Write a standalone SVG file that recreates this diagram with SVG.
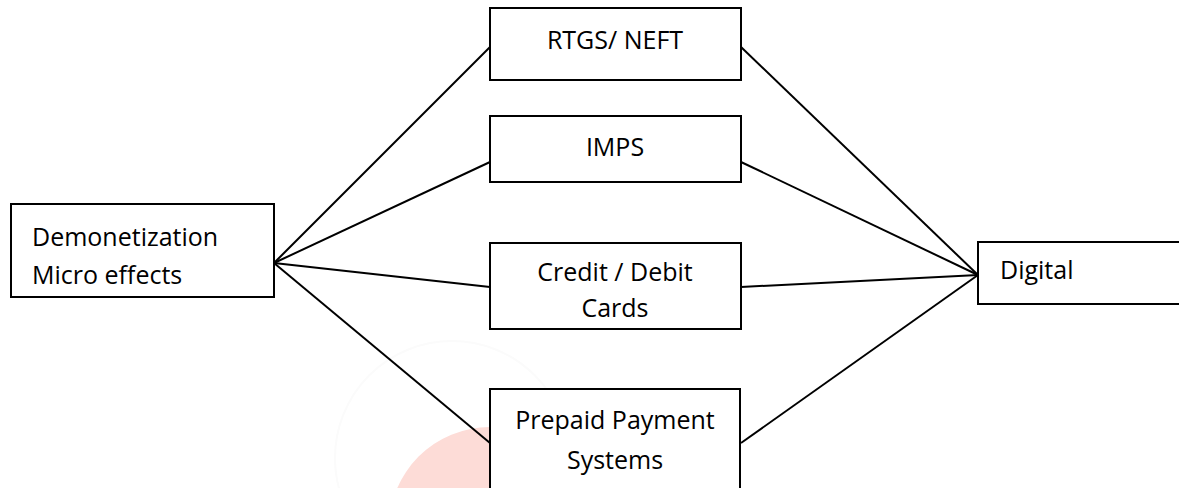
<svg xmlns="http://www.w3.org/2000/svg" width="1179" height="488" viewBox="0 0 1179 488">
  <style>
    .box { fill: #ffffff; stroke: #000000; stroke-width: 2; }
    .link { stroke: #000000; stroke-width: 2; fill: none; }
    .label { font-family: "Open Sans", "Noto Sans", "Liberation Sans", sans-serif; font-size: 25px; fill: #000000; }
    .mid { text-anchor: middle; }
  </style>
  <rect width="1179" height="488" fill="#ffffff"/>

  <!-- faint background mark -->
  <g id="backdrop">
    <circle cx="452" cy="458" r="117" fill="none" stroke="#fbfbfb" stroke-width="2"/>
    <circle cx="490" cy="528" r="101" fill="#fddcd7"/>
  </g>

  <g id="connectors">
    <line class="link" x1="274" y1="263" x2="490" y2="47"/>
    <line class="link" x1="274" y1="263" x2="490" y2="162"/>
    <line class="link" x1="274" y1="263" x2="490" y2="287"/>
    <line class="link" x1="274" y1="263" x2="490" y2="443"/>
    <line class="link" x1="741" y1="47" x2="978" y2="275"/>
    <line class="link" x1="741" y1="162" x2="978" y2="275"/>
    <line class="link" x1="741" y1="287" x2="978" y2="275"/>
    <line class="link" x1="741" y1="443" x2="978" y2="275"/>
  </g>

  <g id="demonetization">
    <rect class="box" x="11" y="204" width="263" height="93"/>
    <text class="label" x="32" y="246">Demonetization</text>
    <text class="label" x="32" y="284">Micro effects</text>
  </g>

  <g id="rtgs-neft">
    <rect class="box" x="490" y="8" width="251" height="72"/>
    <text class="label mid" x="615" y="49">RTGS/ NEFT</text>
  </g>

  <g id="imps">
    <rect class="box" x="490" y="116" width="251" height="66"/>
    <text class="label mid" x="615" y="156">IMPS</text>
  </g>

  <g id="cards">
    <rect class="box" x="490" y="243" width="251" height="86"/>
    <text class="label mid" x="615" y="281">Credit / Debit</text>
    <text class="label mid" x="615" y="317">Cards</text>
  </g>

  <g id="prepaid">
    <rect class="box" x="490" y="389" width="250" height="110"/>
    <text class="label mid" x="615" y="429">Prepaid Payment</text>
    <text class="label mid" x="615" y="469">Systems</text>
  </g>

  <g id="digital">
    <rect class="box" x="978" y="242" width="210" height="62"/>
    <text class="label" x="1000" y="279">Digital</text>
  </g>
</svg>
